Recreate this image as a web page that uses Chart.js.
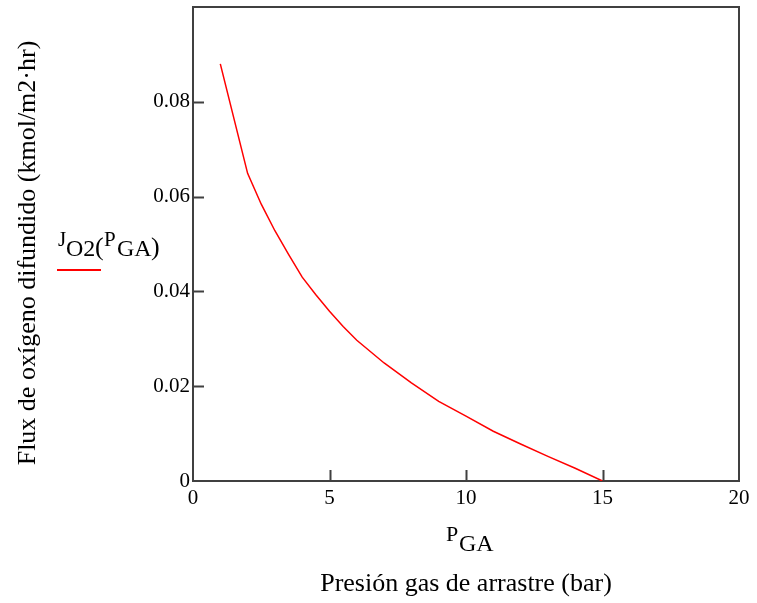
<!DOCTYPE html>
<html>
<head>
<meta charset="utf-8">
<script src="https://cdn.jsdelivr.net/npm/chart.js@4.4.1/dist/chart.umd.min.js"></script>
<style>
  html, body { margin: 0; padding: 0; background: #fff; }
  #wrap { width: 757px; height: 603px; }
</style>
</head>
<body>
<div id="wrap"><canvas id="myChart" width="757" height="603"></canvas></div>
<script>
// data
var pressure = [1, 2, 2.5, 3, 3.5, 4, 4.5, 5, 5.5, 6, 7, 8, 9, 10, 11, 12, 13, 14, 15];
var flux = [0.0880, 0.0649, 0.0584, 0.0528, 0.0478, 0.0430, 0.0393, 0.0358, 0.0326, 0.0297,
            0.0249, 0.0207, 0.0168, 0.0137, 0.0105, 0.0078, 0.0052, 0.0027, 0];
var xTicks = ['0', '5', '10', '15', '20'];
var yTicks = ['0', '0.02', '0.04', '0.06', '0.08'];

var serif = "'Liberation Serif', 'Times New Roman', serif";
var axisColor = '#404040';

// inner tick marks, top/right frame and the Mathcad style labels
var mathcadPlugin = {
    id: 'mathcad',
    afterDraw: function (chart) {
        var ctx = chart.ctx;
        var a = chart.chartArea;
        var xs = chart.scales.x, ys = chart.scales.y;
        ctx.save();
        ctx.strokeStyle = axisColor;
        ctx.lineWidth = 2;
        ctx.beginPath();
        ctx.moveTo(a.left, a.top);
        ctx.lineTo(a.right, a.top);
        ctx.lineTo(a.right, a.bottom);
        ctx.stroke();

        ctx.beginPath();
        xs.ticks.forEach(function (t) {
            if (t.value <= 0 || t.value >= 20) return;
            var px = Math.round(xs.getPixelForValue(t.value)) + 0.5;
            ctx.moveTo(px, a.bottom);
            ctx.lineTo(px, a.bottom - 11);
        });
        ys.ticks.forEach(function (t) {
            if (t.value <= 0 || t.value >= 0.1) return;
            var py = Math.round(ys.getPixelForValue(t.value)) + 0.5;
            ctx.moveTo(a.left, py);
            ctx.lineTo(a.left + 11, py);
        });
        ctx.stroke();

        ctx.fillStyle = '#000';
        ctx.textBaseline = 'alphabetic';
        ctx.textAlign = 'left';

        // x axis variable P_GA
        ctx.font = '22px ' + serif;
        ctx.fillText('P', 446, 541);
        ctx.font = '24px ' + serif;
        ctx.fillText('GA', 459, 551);

        // x axis title
        ctx.textAlign = 'center';
        ctx.font = '26px ' + serif;
        ctx.fillText('Presión gas de arrastre (bar)', 466, 591);

        // y axis title
        ctx.save();
        ctx.translate(35, 253);
        ctx.rotate(-Math.PI / 2);
        ctx.fillText('Flux de oxígeno difundido (kmol/m2·hr)', 0, 0);
        ctx.restore();

        // legend J_O2(P_GA)
        ctx.textAlign = 'left';
        ctx.font = '21px ' + serif;
        ctx.fillText('J', 58, 246);
        ctx.font = '24px ' + serif;
        ctx.fillText('O2', 66, 256);
        ctx.font = '26px ' + serif;
        ctx.fillText('(', 95, 255);
        ctx.font = '21px ' + serif;
        ctx.fillText('P', 104, 246);
        ctx.font = '24px ' + serif;
        ctx.fillText('GA', 117, 256);
        ctx.font = '26px ' + serif;
        ctx.fillText(')', 151, 255);

        ctx.strokeStyle = '#ff0000';
        ctx.lineWidth = 2;
        ctx.beginPath();
        ctx.moveTo(57, 270);
        ctx.lineTo(101, 270);
        ctx.stroke();
        ctx.restore();
    }
};

var ctxL = document.getElementById('myChart').getContext('2d');
var fluxChart = new Chart(ctxL, {
    type: 'line',
    data: {
        datasets: [
            {
                label: 'JO2(PGA)',
                data: pressure.map(function (p, i) { return { x: p, y: flux[i] }; }),
                borderColor: '#ff0000',
                borderWidth: 1.5,
                pointRadius: 0,
                fill: false,
                tension: 0
            }
        ]
    },
    options: {
        responsive: false,
        animation: false,
        layout: { padding: { top: 7, right: 18, left: 0, bottom: 0 } },
        plugins: {
            legend: { display: false },
            tooltip: { enabled: false }
        },
        scales: {
            x: {
                type: 'linear',
                min: 0,
                max: 20,
                ticks: {
                    stepSize: 5,
                    color: '#000',
                    font: { family: serif, size: 21 },
                    padding: 5,
                    maxRotation: 0,
                    callback: function (v, i) { return xTicks[i]; }
                },
                grid: { display: true, drawOnChartArea: false, drawTicks: false },
                border: { display: true, color: axisColor, width: 2 },
                afterFit: function (scale) {
                    scale.height = 122;
                    scale.paddingLeft = 0;
                    scale.paddingRight = 0;
                }
            },
            y: {
                type: 'linear',
                min: 0,
                max: 0.1,
                ticks: {
                    stepSize: 0.02,
                    color: '#000',
                    font: { family: serif, size: 21 },
                    padding: 3,
                    callback: function (v, i) { return yTicks[i] || ''; }
                },
                grid: { display: true, drawOnChartArea: false, drawTicks: false },
                border: { display: true, color: axisColor, width: 2 },
                afterFit: function (scale) {
                    scale.width = 193;
                    scale.paddingTop = 0;
                    scale.paddingBottom = 0;
                }
            }
        }
    },
    plugins: [mathcadPlugin]
});
</script>
</body>
</html>
